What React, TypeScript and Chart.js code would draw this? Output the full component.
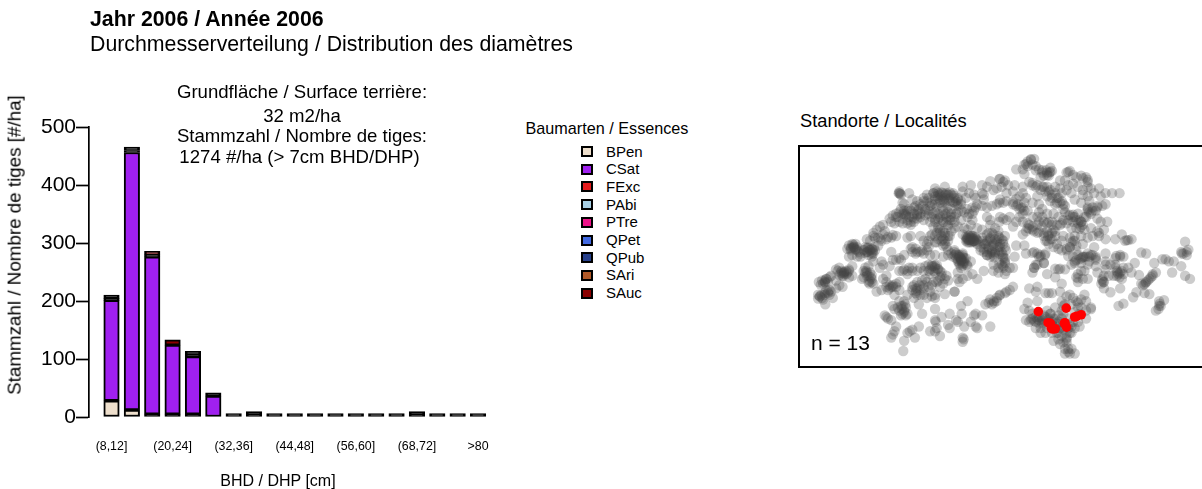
import React, { useEffect, useRef } from "react";
import { Chart, registerables } from "chart.js";

Chart.register(...registerables);

const categories = ["(8,12]","(12,16]","(16,20]","(20,24]","(24,28]","(28,32]","(32,36]","(36,40]","(40,44]","(44,48]","(48,52]","(52,56]","(56,60]","(60,64]","(64,68]","(68,72]","(72,76]","(76,80]",">80"];
const shownTicks = [0, 3, 6, 9, 12, 15, 18];
const N = null;
const BPen = [28,12,5,5,5,N,N,N,N,N,N,N,N,N,N,N,N,N,N];
const CSat = [173,444,271,119,99,36,N,N,N,N,N,N,N,N,N,N,N,N,N];
const FExc = [N,N,N,N,N,N,N,N,N,N,N,N,N,N,N,N,N,N,N];
const PAbi = [N,N,N,N,N,N,N,N,N,N,N,N,N,N,N,N,N,N,N];
const PTre = [N,N,N,N,N,N,N,N,N,N,N,N,N,N,N,N,N,N,N];
const QPet = [N,N,N,N,N,N,N,N,N,N,N,N,N,N,N,N,N,N,N];
const QPub = [1,1,N,N,1,N,N,1,N,N,N,N,N,N,N,1,N,N,N];
const SAri = [N,N,2,N,N,N,N,N,N,N,N,N,N,N,N,N,N,N,N];
const SAuc = [5,5,6,9,5,4,2,4,2,1,1,1,1,1,3,4,1,1,1];
const speciesNames = ["BPen","CSat","FExc","PAbi","PTre","QPet","QPub","SAri","SAuc"];
const speciesValues = [BPen,CSat,FExc,PAbi,PTre,QPet,QPub,SAri,SAuc];
const speciesColors = ["#EEDFCC","#A020F0","#E31A1C","#A6CEE3","#EE1289","#4169E1","#27408B","#B15928","#8B0000"];

const westSites = [
[75,475],[85,485],[92,500],[70,470],[100,465],[110,460],[95,455],[115,480],[125,450],[135,440],[145,445],[100,430],[90,425],[85,435],[105,415],[95,420],[110,410],[125,425],[130,395],[140,400],[150,405],[160,400],[155,395],[165,390],[175,380],[145,410],[165,415],[175,410],[125,390],[135,385],[80,470],[90,470],[105,455],[92,432],[150,398],[145,402],
[180,320],[170,330],[190,320],[165,350],[175,345],[200,340],[220,335],[235,325],[245,330],[225,345],[240,340],[255,315],[265,300],[280,295],[295,290],[310,285],[245,290],[230,300],[250,265],[240,275],[260,255],[220,295],[210,330],[195,335],[185,310],[175,310],[170,325],[160,325],[165,315],[190,350],[200,350],[215,320],[235,350],[178,322],[185,328],[228,328],[238,335],[222,322],
[345,290],[355,285],[270,250],[290,230],[300,220],[310,215],[320,240],[305,245],[315,225],[330,230],[345,235],[360,225],[375,230],[385,215],[400,220],[410,215],[420,225],[430,210],
[320,145],[318,150],[322,152],[350,150],[330,180],[335,185],[325,200],[335,205],[340,220],[355,205],
[360,170],[375,175],[370,190],[380,200],[395,175],[395,165],[410,165],[415,180],[425,150],[435,145],[445,155],[440,165],[455,150],[460,165],[470,155],[480,155],[490,165],[500,170],[510,175],[500,185],[490,180],[475,175],[460,180],[445,180],[430,185],[415,190],[400,200],[430,135],[460,130],[405,155],[440,150],[450,160],[465,150],[475,165],[485,150],[495,175],[455,170],[430,160],[385,185],[365,195],
[515,130],[540,125],[575,125],[600,112],[628,105],[525,165],[550,155],[555,165],[580,155],[575,150],[610,140],[620,135],[515,145],[535,150],[590,130],
[470,210],[455,205],[440,215],[480,215],[490,225],[500,210],[520,210],[535,215],[550,205],[510,235],[530,225],[575,190],[590,195],[605,190],[620,185],[628,180],[580,170],[555,195],[545,215],[465,225],[455,220],[480,235],
[450,235],[465,240],[470,255],[480,270],[460,285],[450,300],[440,295],[430,285],[440,255],[425,255],[415,285],[410,300],[385,285],[395,300],[405,310],[410,320],[460,310],[475,235],[490,240],[500,255],[445,275],[470,285],[430,305],[455,270],
[530,290],[540,295],[550,300],[535,305],[545,285],[555,290],[560,310],[525,300],[575,290],[590,280],[605,275],[600,295],[610,310],[590,305],[620,300],[628,290],[625,320],[600,340],[590,345],[610,345],[580,335],[570,330],[628,340],[538,298],[545,292],[532,296],[548,302],[528,292],[542,305],[605,330],[595,325],[615,335],
[600,250],[615,260],[628,240],[590,225],[600,235],[520,260],[540,250],[515,280],[530,265],[560,260],[575,265],[625,270],[545,235],
[480,340],[490,345],[505,350],[510,360],[520,370],[500,365],[525,355],[515,345],[530,380],[510,385],[540,365],[490,330],[470,345],[455,350],[515,365],[505,375],[495,355],
[355,325],[370,340],[360,335],[385,335],[395,340],[415,345],[430,345],[405,330],
[530,410],[545,405],[560,420],[580,395],[610,375],[625,385],[610,395],[625,400],[628,370],[500,400],[505,430],[500,420],[490,460],[515,420],
[295,335],[320,355],[335,345],[325,360],[310,360],[265,365],[240,365],[215,385],[225,380],[210,395],[205,420],[220,410],[235,420],[240,435],[225,430],[230,400],[260,385],[270,375],[290,380],[300,360],[228,425],[215,400],[235,408],
[320,395],[335,390],[350,385],[360,395],[345,405],[385,385],[400,380],[410,375],[420,380],[435,375],[430,385],[445,395],[450,410],[465,410],[470,425],[430,400],[415,405],[400,420],[390,425],[375,430],[365,440],[360,455],[375,450],[370,465],[385,470],[395,450],[410,445],[425,430],[440,425],[455,435],[445,445],[430,480],[420,475],[405,480],[380,500],[365,480],[425,380],[438,388],[372,458],[382,440],[415,390],
[270,420],[280,410],[300,440],[310,435],[320,430],[290,450],[280,445],[250,460],[265,455],[305,470],[320,455],[295,445],
[300,505],[315,510],[325,505],[335,520],[345,530],[330,530],[340,510],[320,490],[345,470],[335,490],[390,530],[430,515],[460,468],[490,460],[328,515],[338,500],
[280,540],[285,545],[275,535],[295,550],[310,570],[300,595],[295,605],[305,585],[335,615],[345,590],[352,585],[360,580],[368,605],[380,570],[332,647],
[415,585],[430,550],[432,555],[435,575],[430,585],[445,600],[450,540],[475,530],[470,565],[475,575],[495,550],[500,555],[520,570],[540,555],[555,530],[550,535],[560,575],[555,570],[600,570],[515,605],[515,618],[518,610],[510,505],[530,490],[512,530],[575,535],[585,500],[595,495],[610,490],[620,480],[628,472],[605,500],
];
const eastSites = [
[735,42],[725,45],[715,50],[705,60],[700,75],[715,65],[730,60],[740,65],[750,75],[760,85],[775,85],[785,70],[790,80],[780,95],[765,95],[755,100],[680,75],[705,90],[835,85],[845,80],[865,100],[880,95],[895,100],[900,115],[815,110],[830,110],[782,85],[772,78],
[720,115],[730,125],[740,130],[755,140],[765,130],[780,145],[790,155],[805,165],[815,180],[825,185],[775,130],[800,130],[815,135],[840,125],[855,120],[870,130],[885,140],[885,155],[900,160],[910,135],[935,135],[955,150],[975,150],[998,150],[645,110],[630,105],[675,125],[700,130],[635,130],[640,115],[655,125],
[630,170],[640,180],[650,175],[670,185],[680,190],[695,195],[705,205],[730,180],[690,160],[710,165],[750,210],[785,175],[800,185],[840,220],[855,225],[865,235],[880,240],[890,225],[900,205],[915,205],[930,195],[945,190],[955,185],[870,215],[825,200],[855,218],[905,210],
[930,230],[940,240],[950,265],[930,270],[935,285],[920,320],[955,295],[890,265],[880,255],[865,260],[850,260],[835,245],[820,245],[805,250],[790,250],[780,240],[765,240],[750,240],[720,250],[710,270],[700,280],[715,260],[730,265],[745,275],[875,262],[935,275],
[775,270],[765,285],[795,265],[785,295],[800,285],[780,310],[770,300],[825,285],[855,300],[845,320],[835,325],[820,330],[865,330],[885,310],[778,285],[790,275],
[670,255],[640,230],[660,225],[630,225],[650,235],
[640,300],[630,310],[645,320],[635,335],[680,315],[705,315],[710,340],[735,335],[750,350],[770,340],[755,345],[765,370],[735,385],[730,400],[740,375],[675,350],[640,350],[645,365],[635,375],[640,380],[650,395],[670,385],[645,405],[660,385],[638,342],[645,355],
[810,390],[830,390],[775,405],[800,415],[850,375],[865,360],[880,355],[895,350],[910,345],[925,350],[955,340],[925,380],[955,375],[870,405],[880,395],[865,415],[870,430],[900,375],[890,395],[860,370],[875,358],[885,350],
[945,425],[942,435],[950,450],[970,462],[950,410],[955,390],[948,430],
[988,348],[1000,350],[1010,350],[985,375],[995,405],[990,410],[1005,420],[1000,450],[990,395],[980,410],[1005,395],[1035,400],[1045,370],[1058,408],[998,415],[992,400],
[985,295],[1005,280],[1015,300],[1025,298],[1035,295],[1065,337],[1080,340],[1105,370],[1130,358],[1140,358],[1150,365],[1165,365],[1188,380],
[1110,400],[1100,405],[1090,420],[1080,430],[1070,440],[1065,435],[1050,462],[1075,465],[1090,468],[1040,478],[1095,415],[1078,432],[995,505],[1010,498],[1120,490],[1125,505],[1118,515],[1110,520],[1135,487],[1122,498],[1160,400],[1200,303],[1210,328],[1195,340],[1205,345],[1188,335],[1200,410],[1215,420],
[660,455],[650,460],[645,465],[670,445],[630,470],[720,450],[745,445],[740,460],[770,465],[780,465],[790,465],[820,435],[815,460],[845,470],[855,480],[835,475],[890,470],[895,490],[870,495],[880,485],[910,515],[820,490],[825,505],[715,495],[745,490],[705,515],
[710,550],[720,555],[730,545],[740,555],[750,540],[755,575],[765,535],[795,615],[805,590],[820,600],[835,620],[840,640],[840,650],[860,655],[830,655],[850,590],[835,590],[810,570],[875,570],[895,545],[875,530],[870,510],[860,525],[785,530],[820,520],[760,550],[800,545],[780,545],[820,545],[855,555],[760,560],[790,555],[830,570],[810,555],[800,575],[835,605],[845,655],[745,545],[725,548],
];
const denseSites = [
[425,150],[438,158],[450,148],[462,155],[475,148],[488,158],[500,165],[430,170],[445,172],[458,175],[472,170],[485,178],[498,190],[510,185],[420,185],[435,195],[452,195],[468,195],[482,200],[405,175],[392,190],[378,205],[365,215],[350,200],[340,215],[410,205],[425,215],[445,225],[462,215],[478,225],[495,215],[512,205],[528,200],[545,195],[560,185],
[525,288],[533,284],[540,290],[548,294],[535,298],[545,302],[552,286],[558,296],[530,305],[538,282],[555,305],[528,296],[542,285],[550,300],
[575,300],[585,310],[595,320],[605,335],[615,340],[600,350],[590,335],[580,325],[610,315],[620,305],[635,295],[645,285],[625,330],[590,345],[612,352],[640,310],[630,320],[595,275],[610,280],[625,285],[600,290],[615,295],
[495,340],[505,345],[515,350],[500,358],[510,365],[520,365],[528,375],[515,378],[505,352],[520,355],[512,358],[470,330],[465,318],
[335,215],[350,225],[365,230],[345,205],[385,225],[395,235],[375,215],[400,205],[355,240],[415,240],[430,232],[440,230],[455,240],[470,250],[445,265],[460,275],[475,285],[435,275],[455,295],[470,300],[490,260],
[710,58],[725,43],[740,78],[760,78],[785,83],[775,93],[840,83],[855,93],[900,108],[885,103],
[730,118],[745,125],[760,130],[770,145],[785,140],[800,150],[810,165],[820,175],[830,190],[805,180],[790,165],[775,160],
[670,178],[685,185],[700,195],[715,205],[690,200],[680,168],[705,180],
[700,240],[715,245],[730,255],[745,250],[760,255],[775,245],[790,240],[720,262],[735,270],[750,272],[765,275],[780,280],[790,295],[775,300],[800,270],[815,250],
[830,210],[845,218],[860,225],[875,235],[885,250],[870,245],[855,240],[840,235],[895,225],[910,215],[925,205],[900,195],[880,240],[900,200],[915,195],[930,190],
[850,305],[860,300],[845,320],[835,330],[865,315],
[840,348],[855,350],[870,345],[885,352],[900,340],[915,345],[925,355],[905,365],[880,370],[860,365],
[730,338],[745,340],[755,350],[768,345],[765,370],[745,375],[735,385],[800,388],[815,388],[870,418],
[180,318],[172,322],[185,325],[178,312],[190,330],[230,330],[222,335],[238,328],[225,322],[235,340],[215,338],[242,320],[212,328],
[270,280],[285,288],[300,282],[255,290],[240,285],[262,295],[275,270],
[90,430],[82,425],[95,420],[78,438],[72,430],[150,400],[142,395],[158,405],[135,408],[165,395],[148,412],[100,460],[90,465],[105,470],[75,475],[82,480],[70,482],
[310,225],[295,240],[320,210],[330,245],[345,245],[355,250],[365,240],[375,220],[330,215],[320,150],[325,155],
[220,400],[225,410],[232,415],[210,415],[228,435],[235,430],[218,395],[290,440],[300,445],[310,445],[285,455],[280,430],
[420,375],[430,378],[440,390],[450,400],[460,420],[445,415],[435,430],[420,440],[405,430],[395,440],[385,455],[370,450],[360,445],[375,470],[395,470],[415,460],[430,470],[425,395],[410,395],
[330,395],[345,395],[360,385],[375,395],[395,395],[490,335],[500,345],[510,355],[515,340],[485,350],[510,360],[505,370],[515,372],
[360,320],[375,335],[390,330],[370,325],[430,240],[440,260],[450,285],[460,300],[420,280],[435,305],[455,315],
[305,515],[320,520],[335,525],[330,505],[325,535],[340,535],[560,300],[570,320],[590,300],[605,305],[580,310],[600,485],[612,495],[620,490],
[785,530],[770,540],[780,550],[795,545],[810,535],[825,530],[840,545],[845,565],[825,580],[810,590],[835,610],[760,545],[750,550],[735,552],
[1100,410],[1085,425],[1075,437],[1010,405],[1000,400],[985,355],[1000,345],[1120,505],[1020,298],[1190,340],[1205,335],
[950,430],[945,420],[925,360],[905,350],[890,350],[640,355],[645,370],[640,385],[648,330],
[740,540],[750,560],[765,560],[775,575],[790,565],[805,560],[815,575],[825,560],[840,575],[850,570],[790,590],[810,610],[825,620],[830,640],[850,640],[815,625],[775,520],[800,510],[830,500],[850,500],[865,490],[880,510],[895,520],[910,510],[870,555],[860,575],[845,590],[770,590],[755,590],[740,575],[730,530],[720,520],
[900,130],[920,150],[940,160],[905,175],[880,180],[860,170],[850,150],[835,140],[820,150],[700,150],[670,145],[650,150],[745,160],[750,185],[760,200],[775,215],[795,215],[810,225],[825,235],[690,225],[680,240],[700,215],[730,225],[745,225],[760,225],[960,240],[910,260],[915,285],[900,290],[880,285],[860,285],[845,290],[820,300],[805,310],[795,320],[810,325],[955,365],[970,375],[985,385],[1010,385],[1025,385],[965,410],[930,400],[900,420],[885,420],
];
const allSites = [...westSites, ...eastSites, ...denseSites];
const siteX = allSites.map((p) => p[0]);
const siteY = allSites.map((p) => p[1]);
const redSiteX = [748,834,880,860,778,788,800,830,835,785,828,792,866];
const redSiteY = [523,512,533,540,558,575,577,558,572,560,560,578,538];

function App() {
  const barRef = useRef<HTMLCanvasElement>(null);
  const mapRef = useRef<HTMLCanvasElement>(null);

  useEffect(() => {
    const bars = new Chart(barRef.current!, {
      type: "bar",
      data: {
        datasets: speciesNames.map((name, i) => ({
          label: name,
          data: speciesValues[i].map((v, k) => ({ x: k, y: v })),
          backgroundColor: (c: any) => {
            const v = c.raw && c.raw.y;
            return v !== null && v !== undefined && v < 6 ? "#000" : speciesColors[i];
          },
          borderColor: "#000",
          borderWidth: 2,
          borderSkipped: false,
          barThickness: 15.5,
          minBarLength: name === "SAuc" ? 3.4 : 2,
        })),
      },
      options: {
        animation: false,
        responsive: false,
        layout: { padding: { top: 127, right: 12, left: 0, bottom: 0 } },
        plugins: { legend: { display: false }, title: { display: false }, tooltip: { enabled: false } },
        scales: {
          x: {
            type: "linear",
            stacked: true,
            offset: false,
            min: -1.105,
            max: 18.49,
            grid: { display: false },
            border: { display: false },
            afterBuildTicks: (s: any) => { s.ticks = shownTicks.map((value) => ({ value })); },
            afterFit: (s: any) => { s.height = 72; s.paddingLeft = 0; s.paddingRight = 0; },
            ticks: {
              autoSkip: false,
              maxRotation: 0,
              padding: 14,
              color: "#000",
              font: { family: "Liberation Sans", size: 12.4 },
              callback: (v: any) => categories[Number(v)],
            },
          },
          y: {
            stacked: true,
            min: 0,
            max: 500,
            afterFit: (s: any) => { s.width = 89; },
            border: { display: true, color: "#000", width: 1.7 },
            grid: { drawOnChartArea: false, drawTicks: true, tickLength: 13, tickColor: "#000", tickWidth: 1.7 },
            ticks: { stepSize: 100, padding: 0, color: "#000", font: { family: "Liberation Sans", size: 21 } },
          },
        },
      },
    } as any);

    const map = new Chart(mapRef.current!, {
      type: "scatter",
      data: {
        datasets: [
          {
            label: "Alle / Tous",
            data: siteX.map((x, i) => ({ x, y: siteY[i] })),
            backgroundColor: "rgba(66,66,66,0.27)",
            borderWidth: 0,
            pointRadius: 5.2,
            order: 2,
          },
          {
            label: "Standorte",
            data: redSiteX.map((x, i) => ({ x, y: redSiteY[i] })),
            backgroundColor: "#FF0000",
            borderWidth: 0,
            pointRadius: 4.8,
            order: 1,
          },
        ],
      },
      options: {
        animation: false,
        responsive: false,
        layout: { padding: 0 },
        plugins: { legend: { display: false }, tooltip: { enabled: false } },
        scales: {
          x: { type: "linear", display: false, min: 27, max: 1236 },
          y: { type: "linear", display: false, reverse: true, min: 21, max: 678 },
        },
      },
    } as any);

    return () => {
      bars.destroy();
      map.destroy();
    };
  }, []);

  const font = "'Liberation Sans', Arial, sans-serif";
  const abs = (left: number, top: number, size: number, extra: any = {}): any => ({
    position: "absolute", left, top, fontFamily: font, fontSize: size, lineHeight: "1", color: "#000", whiteSpace: "nowrap", ...extra,
  });
  const center = (cx: number, top: number, size: number): any =>
    abs(cx, top, size, { transform: "translateX(-50%)" });

  return (
    <div style={{ position: "absolute", left: 0, top: 0, width: 1202, height: 489, overflow: "hidden", background: "#fff" }}>
      <canvas ref={barRef} width={500} height={489} style={{ position: "absolute", left: 0, top: 0, width: 500, height: 489 }} />

      <div style={abs(90, 9, 21.3, { fontWeight: "bold" })}>Jahr 2006 / Année 2006</div>
      <div style={abs(90, 34, 21.3)}>Durchmesserverteilung / Distribution des diamètres</div>

      <div style={center(302, 83, 18.6)}>Grundfläche / Surface terrière:</div>
      <div style={center(302, 106.5, 18.6)}>32 m2/ha</div>
      <div style={center(302, 127, 18.6)}>Stammzahl / Nombre de tiges:</div>
      <div style={center(299.5, 148, 18.6)}>1274 #/ha (&gt; 7cm BHD/DHP)</div>

      <div style={abs(14.5, 245, 18.8, { transform: "translate(-50%,-50%) rotate(-90deg)" })}>Stammzahl / Nombre de tiges [#/ha]</div>
      <div style={center(278, 473, 16)}>BHD / DHP [cm]</div>

      <div style={center(607, 120, 16.2)}>Baumarten / Essences</div>
      {speciesNames.map((name, i) => (
        <React.Fragment key={name}>
          <div style={{ position: "absolute", left: 581, top: 146 + i * 17.7, width: 12, height: 11, boxSizing: "border-box", border: "2px solid #000", background: speciesColors[i] }} />
          <div style={abs(606, 143.5 + i * 17.7, 15)}>{name}</div>
        </React.Fragment>
      ))}

      <div style={abs(800, 112, 18.3)}>Standorte / Localités</div>
      <div style={{ position: "absolute", left: 798, top: 145, width: 420, height: 223, boxSizing: "border-box", border: "2px solid #000" }} />
      <canvas ref={mapRef} width={403} height={219} style={{ position: "absolute", left: 799, top: 147, width: 403, height: 219 }} />
      <div style={abs(811, 331.5, 21)}>n = 13</div>
    </div>
  );
}

export default App;
